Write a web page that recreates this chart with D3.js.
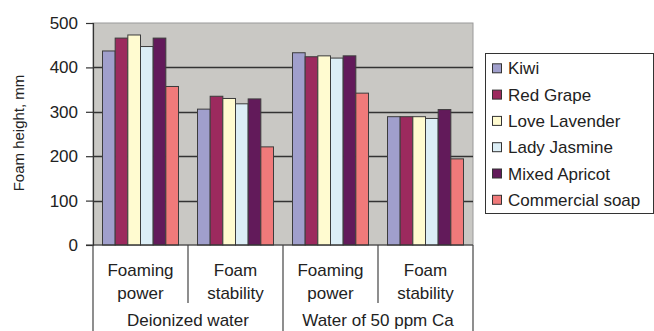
<!DOCTYPE html>
<html>
<head>
<meta charset="utf-8">
<script src="https://cdn.jsdelivr.net/npm/d3@7"></script>
<style>
  html, body { margin: 0; padding: 0; background: #fff; }
  svg { display: block; font-family: "Liberation Sans", Arial, sans-serif; }
</style>
</head>
<body>
<svg id="chart" width="654" height="331"></svg>
<script>
// ---- data ----
const waterTypes = ["Deionized water", "Water of 50 ppm Ca"];
const measures = [["Foaming", "power"], ["Foam", "stability"]];
const series = ["Kiwi", "Red Grape", "Love Lavender", "Lady Jasmine", "Mixed Apricot", "Commercial soap"];
const seriesColors = ["#A09FCC", "#9C2A5E", "#FFFBD0", "#DCEEF6", "#621A5A", "#F07A7A"];
// values per series, in order: DI foaming power, DI foam stability, Ca foaming power, Ca foam stability
const kiwi        = [437, 306, 433, 289];
const redGrape    = [466, 335, 424, 289];
const loveLav     = [473, 330, 426, 289];
const ladyJasmine = [447, 318, 421, 285];
const mixedApricot= [466, 329, 426, 305];
const commercial  = [357, 221, 342, 194];
const seriesValues = [kiwi, redGrape, loveLav, ladyJasmine, mixedApricot, commercial];
const yTicks = [0, 100, 200, 300, 400, 500];
const yTitle = "Foam height, mm";

// ---- layout ----
const svg = d3.select("#chart");
const plot = { left: 93, right: 473, top: 23, bottom: 245 };

const groups = [];
waterTypes.forEach((w, wi) => measures.forEach((m, mi) => groups.push({ key: wi + "-" + mi, water: w, label: m, wi, mi })));

const x0 = d3.scaleBand().domain(groups.map(g => g.key)).range([plot.left, plot.right]).paddingInner(0).paddingOuter(0);
const x1 = d3.scaleBand().domain(series).range([0, x0.bandwidth()]).paddingInner(0).paddingOuter(0.75);
const y = d3.scaleLinear().domain([0, 500]).range([plot.bottom, plot.top]);

// plot background
svg.append("rect")
  .attr("x", plot.left).attr("y", plot.top)
  .attr("width", plot.right - plot.left).attr("height", plot.bottom - plot.top)
  .attr("fill", "#C9C8C4").attr("stroke", "#9a9a9a").attr("stroke-width", 1);

// gridlines
svg.append("g").selectAll("line").data(yTicks.filter(t => t > 0 && t < 500)).join("line")
  .attr("x1", plot.left).attr("x2", plot.right)
  .attr("y1", d => Math.round(y(d)) + 0.5).attr("y2", d => Math.round(y(d)) + 0.5)
  .attr("stroke", "#333").attr("stroke-width", 1.3);

// bars
const gBars = svg.append("g");
groups.forEach((g, gi) => {
  gBars.selectAll(null).data(series.map((s, si) => ({ s, si, v: seriesValues[si][gi] }))).join("rect")
    .attr("x", d => x0(g.key) + x1(d.s))
    .attr("y", d => y(d.v))
    .attr("width", x1.bandwidth())
    .attr("height", d => y(0) - y(d.v))
    .attr("fill", d => seriesColors[d.si])
    .attr("stroke", "#3c3c3c").attr("stroke-width", 1);
});

// y axis
const yAxis = d3.axisLeft(y).tickValues(yTicks).tickSize(7).tickPadding(8);
const gy = svg.append("g").attr("transform", `translate(${plot.left},0)`).call(yAxis);
gy.select(".domain").attr("stroke", "#333").attr("stroke-width", 1.2);
gy.selectAll(".tick line").attr("stroke", "#333").attr("stroke-width", 1.2);
gy.selectAll(".tick text").attr("font-size", 17).attr("fill", "#222")
  .attr("font-family", "Liberation Sans, Arial, sans-serif");

// x axis baseline
svg.append("line").attr("x1", plot.left - 7).attr("x2", plot.right)
  .attr("y1", plot.bottom).attr("y2", plot.bottom)
  .attr("stroke", "#333").attr("stroke-width", 1.2);

// category separators
const boundaries = groups.map(g => x0(g.key)).concat([plot.right]);
boundaries.forEach((bx, i) => {
  const major = (i % measures.length === 0);
  svg.append("line").attr("x1", bx).attr("x2", bx)
    .attr("y1", plot.bottom).attr("y2", major ? 340 : 303)
    .attr("stroke", "#444").attr("stroke-width", 1.2);
});

// category labels
groups.forEach(g => {
  const cx = x0(g.key) + x0.bandwidth() / 2;
  const t = svg.append("text").attr("text-anchor", "middle").attr("font-size", 17).attr("fill", "#222");
  t.append("tspan").attr("x", cx).attr("y", 276).text(g.label[0]);
  t.append("tspan").attr("x", cx).attr("y", 299).text(g.label[1]);
});
waterTypes.forEach((w, wi) => {
  const first = x0(groups[wi * measures.length].key);
  const cx = first + x0.bandwidth() * measures.length / 2;
  svg.append("text").attr("x", cx).attr("y", 326).attr("text-anchor", "middle")
    .attr("font-size", 17).attr("fill", "#222").text(w);
});

// y title
svg.append("text").attr("transform", "translate(24,133) rotate(-90)")
  .attr("text-anchor", "middle").attr("font-size", 15).attr("fill", "#222").text(yTitle);

// legend
const lg = svg.append("g");
lg.append("rect").attr("x", 485.5).attr("y", 53.5).attr("width", 168).attr("height", 160)
  .attr("fill", "#fff").attr("stroke", "#333").attr("stroke-width", 1);
series.forEach((s, i) => {
  const cy = 68.3 + i * 26.3;
  lg.append("rect").attr("x", 492.5).attr("y", cy - 4.5).attr("width", 9).attr("height", 9)
    .attr("fill", seriesColors[i]).attr("stroke", "#333").attr("stroke-width", 1);
  lg.append("text").attr("x", 508).attr("y", cy + 6).attr("font-size", 17).attr("fill", "#222").text(s);
});
</script>
</body>
</html>
